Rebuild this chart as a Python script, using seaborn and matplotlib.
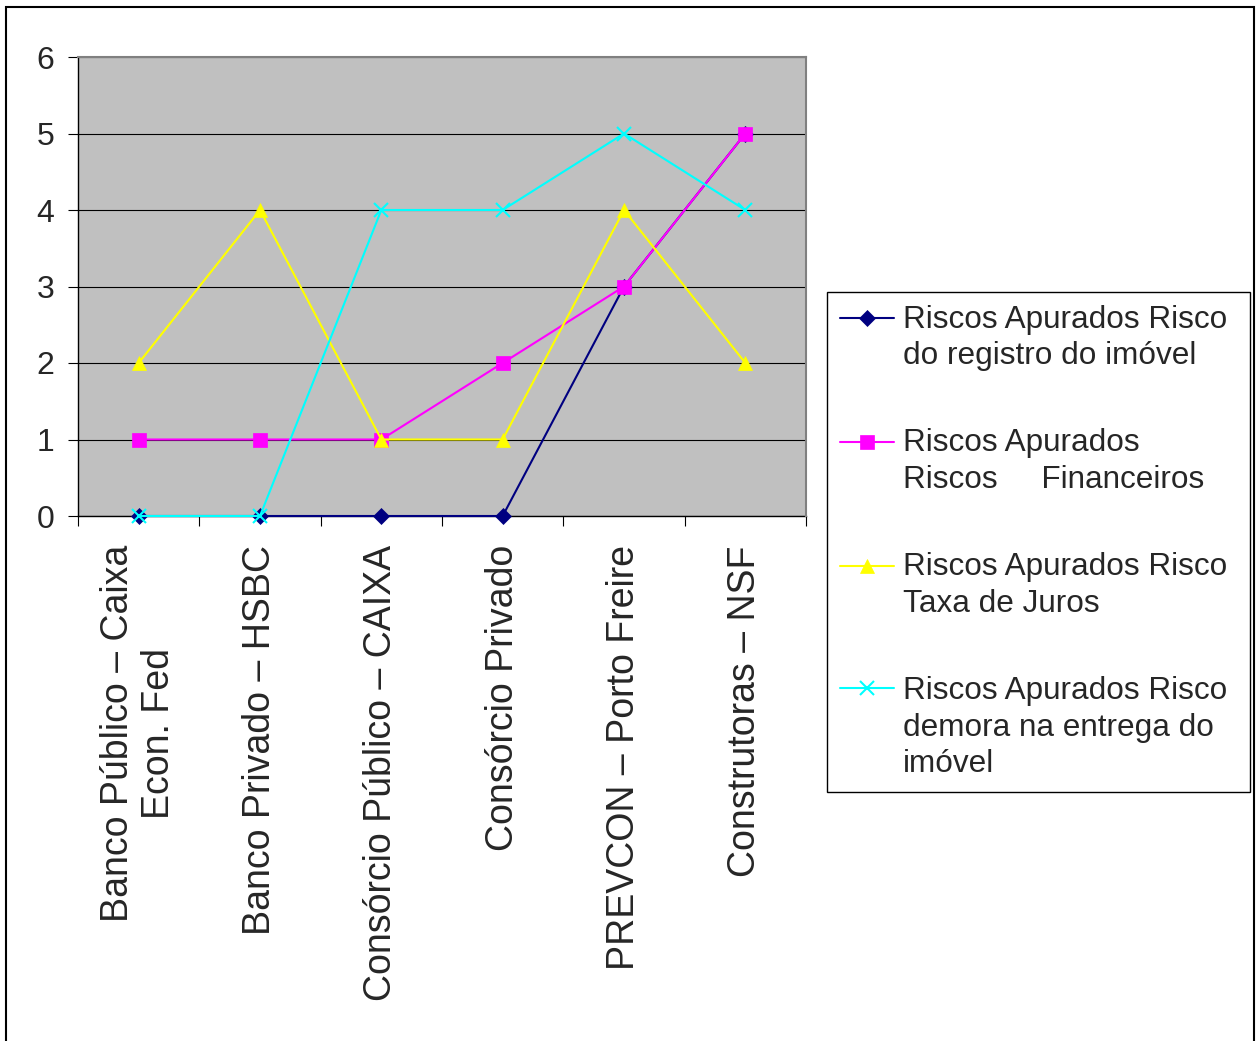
import numpy as np
import pandas as pd
import matplotlib
matplotlib.use("Agg")
import matplotlib.pyplot as plt
from matplotlib.patches import Rectangle
from matplotlib.legend_handler import HandlerLine2D
import seaborn as sns

# categorias do eixo x
categorias = [
    "Banco Público – Caixa\nEcon. Fed",
    "Banco Privado – HSBC",
    "Consórcio Público – CAIXA",
    "Consórcio Privado",
    "PREVCON – Porto Freire",
    "Construtoras – NSF",
]

# séries
risco_registro = [0, 0, 0, 0, 3, 5]
riscos_financeiros = [1, 1, 1, 2, 3, 5]
risco_taxa_juros = [2, 4, 1, 1, 4, 2]
risco_demora_entrega = [0, 0, 4, 4, 5, 4]

nomes_series = [
    "Riscos Apurados Risco\ndo registro do imóvel",
    "Riscos Apurados\nRiscos     Financeiros",
    "Riscos Apurados Risco\nTaxa de Juros",
    "Riscos Apurados Risco\ndemora na entrega do\nimóvel",
]

ESPACO_LINHA = 1.28  # espaçamento entre linhas do texto da legenda


class HandleNaPrimeiraLinha(HandlerLine2D):
    """Alinha o marcador da legenda com a primeira linha do texto (estilo Excel)"""

    def __init__(self, nlinhas, **kw):
        super().__init__(**kw)
        self.nlinhas = nlinhas

    def create_artists(self, legend, orig_handle, xdescent, ydescent,
                       width, height, fontsize, trans):
        artistas = super().create_artists(legend, orig_handle, xdescent, ydescent,
                                          width, height, fontsize, trans)
        desloc = 0.5 * ESPACO_LINHA * (self.nlinhas - 1) * fontsize
        for a in artistas:
            a.set_ydata(np.asarray(a.get_ydata(), dtype=float) + desloc)
        return artistas


sns.set_style("white")
plt.rcParams["font.family"] = ["Liberation Sans", "DejaVu Sans"]

W, H = 1258, 1041
fig = plt.figure(figsize=(W / 100, H / 100), dpi=100)
ax = fig.add_axes([78 / W, 1 - 516 / H, (806 - 78) / W, (516 - 57) / H])
ax.set_facecolor("#C0C0C0")

df = pd.DataFrame({
    "pos": np.arange(len(categorias)),
    "registro": risco_registro,
    "financeiros": riscos_financeiros,
    "juros": risco_taxa_juros,
    "demora": risco_demora_entrega,
})

estilos = [
    ("registro", "#000080", "D", 8, 0.5),
    ("financeiros", "#FF00FF", "s", 10, 0.5),
    ("juros", "#FFFF00", "^", 10, 0.5),
    ("demora", "#00FFFF", "x", 10, 1.5),
]

for (col, cor, marcador, tam, mew), nome in zip(estilos, nomes_series):
    sns.lineplot(data=df, x="pos", y=col, ax=ax, color=cor, marker=marcador,
                 markersize=tam, markeredgecolor=cor, markeredgewidth=mew,
                 linewidth=1.5, label=nome, clip_on=False, zorder=3)

ax.set_xlim(-0.5, len(categorias) - 0.5)
ax.set_ylim(0, 6)
ax.set_xlabel("")
ax.set_ylabel("")

# grade horizontal preta
ax.set_yticks(range(0, 7))
ax.yaxis.grid(True, color="black", linewidth=0.8)
ax.set_axisbelow(True)

ax.set_xticks(np.arange(len(categorias)))
ax.set_xticklabels(categorias, rotation=90, fontsize=27, ha="center", va="top",
                   multialignment="center")
ax.set_xticks(np.arange(-0.5, len(categorias)), minor=True)
ax.tick_params(axis="x", which="major", length=0, pad=21)
ax.tick_params(axis="x", which="minor", length=7, width=0.8, color="black",
               direction="out", bottom=True)
ax.tick_params(axis="y", which="major", length=7, width=0.8, color="black",
               direction="out", left=True, labelsize=23, pad=10)

for lado in ["top", "right"]:
    ax.spines[lado].set_color("#808080")
    ax.spines[lado].set_linewidth(1.5)
for lado in ["left", "bottom"]:
    ax.spines[lado].set_color("black")
    ax.spines[lado].set_linewidth(1.0)
    ax.spines[lado].set_zorder(2)

handles, labels = ax.get_legend_handles_labels()
mapa = {h: HandleNaPrimeiraLinha(lbl.count("\n") + 1) for h, lbl in zip(handles, labels)}
leg = ax.legend(handles, labels, loc="upper left", mode="expand",
                bbox_to_anchor=(827 / W, 1 - 789 / H, (1250 - 827) / W, (789 - 292) / H),
                bbox_transform=fig.transFigure,
                fontsize=22.7, frameon=True, fancybox=False, edgecolor="black",
                framealpha=1, handlelength=1.72, handletextpad=0.3,
                labelspacing=1.82, borderpad=0.4, borderaxespad=0,
                handler_map=mapa)
leg.get_frame().set_linewidth(1.0)
for t in leg.get_texts():
    t.set_linespacing(ESPACO_LINHA)

# moldura externa do gráfico
fig.patches.append(Rectangle((6 / W, -0.02), (1254 - 6) / W, 1 - 7 / H + 0.02,
                             transform=fig.transFigure, fill=False,
                             edgecolor="black", linewidth=1.5))

fig.savefig("out.png", dpi=100)
